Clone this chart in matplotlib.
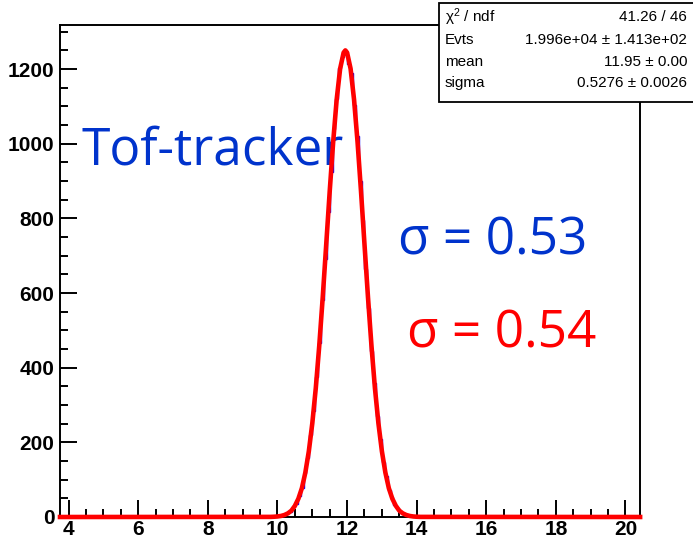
import numpy as np
import matplotlib
matplotlib.use("Agg")
import matplotlib.pyplot as plt
from matplotlib.patches import Rectangle

plt.rcParams['mathtext.fontset'] = 'custom'
plt.rcParams['mathtext.rm'] = 'Liberation Sans'
plt.rcParams['mathtext.it'] = 'Liberation Sans:italic'

# histogram (bin width 1/12, from 10.0 to 14.0)
bin_lo = 10.0
bin_w = 1.0 / 12
counts = [2, 4, 5, 10, 14, 26, 35, 57, 78, 118, 158, 221, 284, 376, 465, 582,
          690, 818, 925, 1040, 1121, 1203, 1232, 1247, 1213, 1190, 1104, 1020,
          900, 796, 664, 560, 446, 358, 270, 208, 147, 110, 72, 53, 32, 23, 13,
          9, 4, 3, 2, 1]

# gaussian fit curve as drawn
fit_x = [3.75, 9.8, 9.9,
         10.0, 10.1, 10.2, 10.3, 10.4, 10.5, 10.6, 10.7, 10.8, 10.9,
         11.0, 11.1, 11.2, 11.3, 11.4, 11.5, 11.6, 11.7, 11.8, 11.9, 11.95,
         12.0, 12.1, 12.2, 12.3, 12.4, 12.5, 12.6, 12.7, 12.8, 12.9,
         13.0, 13.1, 13.2, 13.3, 13.4, 13.5, 13.6, 13.7, 13.8, 13.9,
         14.0, 14.1, 20.42]
fit_y = [0, 0.3, 0.7,
         1.4, 2.8, 5.4, 9.8, 17, 30, 49, 77, 119, 176,
         251, 345, 459, 589, 730, 872, 1005, 1118, 1201, 1244, 1250,
         1244, 1201, 1118, 1005, 872, 730, 589, 459, 345, 251,
         176, 119, 77, 49, 30, 17, 9.8, 5.4, 2.8, 1.4,
         0.7, 0.3, 0]

stat_names = [r'$\mathregular{\chi^{2}}$ / ndf', 'Evts', 'mean', 'sigma']
stat_vals = ['41.26 / 46', '1.996e+04 \u00b1 1.413e+02', '11.95 \u00b1 0.00',
             '0.5276 \u00b1 0.0026']

fig = plt.figure(figsize=(6.93, 5.40), dpi=100)
ax = fig.add_axes([60/693, 23/540, 580/693, 492/540])

edges = bin_lo + np.arange(len(counts) + 1) * bin_w
ax.stairs(counts, edges, color='blue', lw=1.0, zorder=2)
ax.plot(fit_x, fit_y, color='red', lw=3.3, zorder=5, clip_on=False,
        solid_joinstyle='round')

ax.set_xlim(3.75, 20.4167)
ax.set_ylim(0, 1318)
ax.set_xticks(np.arange(4, 21, 2))
ax.set_xticks(np.arange(4, 20.5, 0.5), minor=True)
ax.set_yticks(np.arange(0, 1201, 200))
ax.set_yticks(np.arange(0, 1301, 50), minor=True)

for s in ax.spines.values():
    s.set_linewidth(1.4)
ax.tick_params(which='both', direction='in', width=1.4, top=False, right=False)
ax.tick_params(which='major', length=12.5)
ax.tick_params(which='minor', length=6)
ax.tick_params(axis='x', pad=2)
ax.tick_params(axis='y', pad=4)
for lab in ax.get_xticklabels() + ax.get_yticklabels():
    lab.set_fontfamily('Liberation Sans')
    lab.set_fontweight('bold')
    lab.set_fontsize(15)

ax.text(4.38, 943, 'Tof-tracker', family='Open Sans', fontsize=37,
        color='#0033cc', va='baseline', ha='left')
ax.text(13.46, 704, '\u03c3 = 0.53', family='Open Sans', fontsize=37,
        color='#0033cc', va='baseline', ha='left')
ax.text(13.72, 455, '\u03c3 = 0.54', family='Open Sans', fontsize=37,
        color='red', va='baseline', ha='left')

# stats box
box = Rectangle((439/693, 438/540), 0.4, 99/540, transform=fig.transFigure,
                facecolor='white', edgecolor='black', lw=1.3, zorder=10)
fig.patches.append(box)
rows_y = [17, 40, 62, 83]
for nm, val, yy in zip(stat_names, stat_vals, rows_y):
    fig.text(445/693, 1 - yy/540, nm, family='Liberation Sans', fontsize=11,
             ha='left', va='center', zorder=11)
    fig.text(687/693, 1 - yy/540, val, family='Liberation Sans', fontsize=11,
             ha='right', va='center', zorder=11)

fig.savefig('out.png', dpi=100)
